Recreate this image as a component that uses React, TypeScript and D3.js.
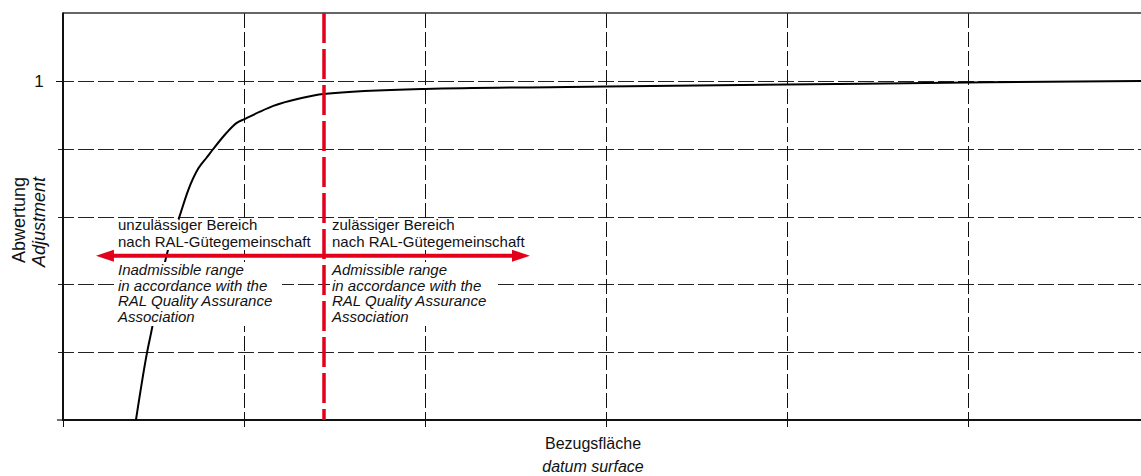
import React from "react";
import * as d3 from "d3";

// ---- data ----
const xGridValues = [0, 1, 2, 3, 4, 5, 6];
const yGridValues = [0, 0.2, 0.4, 0.6, 0.8, 1];
const yTickValues = [1];
const yTickLabels = ["1"];
const curveX = [0.403, 0.464, 0.492, 0.53, 0.58, 0.643, 0.692, 0.748, 0.794, 0.83, 0.904, 0.96, 1.002, 1.088, 1.162, 1.309, 1.438, 2.0, 3.0, 4.0, 5.0, 6.0];
const curveY = [0.0, 0.198, 0.271, 0.383, 0.501, 0.599, 0.678, 0.742, 0.774, 0.799, 0.847, 0.876, 0.887, 0.909, 0.926, 0.948, 0.961, 0.976, 0.983, 0.989, 0.995, 1.0];
const limitX = 1.442;
const arrowFromX = 0.182;
const arrowToX = 2.58;
const arrowY = 0.484;
const leftLabelDe = ["unzulässiger Bereich", "nach RAL-Gütegemeinschaft"];
const leftLabelEn = ["Inadmissible range", "in accordance with the", "RAL Quality Assurance", "Association"];
const rightLabelDe = ["zulässiger Bereich", "nach RAL-Gütegemeinschaft"];
const rightLabelEn = ["Admissible range", "in accordance with the", "RAL Quality Assurance", "Association"];
const xTitle = ["Bezugsfläche", "datum surface"];
const yTitle = ["Abwertung", "Adjustment"];

const W = 1141;
const H = 476;
const RED = "#e3001b";
const FONT = "'Liberation Sans', Arial, Helvetica, sans-serif";

const snap = (v: number) => Math.round(v) + 0.5;

export default function App() {
  const x = d3.scaleLinear().domain([0, 6]).range([63, 1149]);
  const y = d3.scaleLinear().domain([0, 1.2]).range([420, 13]);
  const pts: [number, number][] = curveX.map((v, i) => [x(v), y(curveY[i])]);
  const line = d3.line().curve(d3.curveMonotoneX)(pts) || "";

  const ax0 = x(arrowFromX);
  const ax1 = x(arrowToX);
  const ay = y(arrowY);
  const headL = 18;
  const headW = 6;
  const lx = x(limitX);

  const innerText = { fontFamily: FONT, fontSize: 15, fill: "#111" } as const;

  return (
    <svg width={W} height={H} style={{ position: "absolute", left: 0, top: 0, background: "#fff" }}>
      <rect x={0} y={0} width={W} height={H} fill="#fff" />
      {/* horizontal grid */}
      {yGridValues.filter((v) => v > 0).map((v) => (
        <line key={"hg" + v} x1={58} x2={W} y1={snap(y(v))} y2={snap(y(v))} stroke="#222" strokeWidth={1} strokeDasharray="16,4" />
      ))}
      {/* vertical grid */}
      {xGridValues.filter((v) => v > 0).map((v) => (
        <line key={"vg" + v} x1={snap(x(v))} x2={snap(x(v))} y1={13} y2={420} stroke="#111" strokeWidth={1} strokeDasharray="15,4" />
      ))}
      {/* bottom ticks */}
      {xGridValues.map((v) => (
        <line key={"xt" + v} x1={snap(x(v))} x2={snap(x(v))} y1={420} y2={427} stroke="#111" strokeWidth={1} />
      ))}
      {/* y ticks */}
      {yTickValues.map((v, i) => (
        <g key={"yt" + v}>
          <line x1={56} x2={63} y1={snap(y(v))} y2={snap(y(v))} stroke="#111" strokeWidth={1} />
          <text x={39} y={y(v)} dy="0.36em" textAnchor="middle" fontFamily={FONT} fontSize={17} fill="#111">
            {yTickLabels[i]}
          </text>
        </g>
      ))}
      <line x1={57} x2={63} y1={420} y2={420} stroke="#111" strokeWidth={1.2} />
      {/* frame */}
      <line x1={63} x2={W} y1={13} y2={13} stroke="#333" strokeWidth={1.6} />
      <line x1={63} x2={63} y1={12.5} y2={421} stroke="#111" strokeWidth={2} />
      <line x1={62} x2={W} y1={420} y2={420} stroke="#111" strokeWidth={2} />

      {/* curve */}
      <path d={line} fill="none" stroke="#000" strokeWidth={2} />

      {/* red limit line */}
      <line x1={lx} x2={lx} y1={13} y2={420} stroke={RED} strokeWidth={3.5} strokeDasharray="30,6" />

      {/* arrow */}
      <line x1={ax0 + headL - 1} x2={ax1 - headL + 1} y1={ay} y2={ay} stroke={RED} strokeWidth={4} />
      <path d={`M${ax0},${ay} L${ax0 + headL},${ay - headW} L${ax0 + headL},${ay + headW} Z`} fill={RED} />
      <path d={`M${ax1},${ay} L${ax1 - headL},${ay - headW} L${ax1 - headL},${ay + headW} Z`} fill={RED} />

      {/* annotations */}
      <rect x={116} y={219} width={200} height={31} fill="#fff" />
      <rect x={116} y={262} width={166} height={64} fill="#fff" />
      <rect x={lx + 6} y={219} width={200} height={31} fill="#fff" />
      <rect x={lx + 6} y={262} width={164} height={64} fill="#fff" />
      {leftLabelDe.map((t, i) => (
        <text key={"ld" + i} x={118} y={230 + i * 16.7} {...innerText}>{t}</text>
      ))}
      {leftLabelEn.map((t, i) => (
        <text key={"le" + i} x={118} y={275 + i * 15.7} {...innerText} fontStyle="italic">{t}</text>
      ))}
      {rightLabelDe.map((t, i) => (
        <text key={"rd" + i} x={lx + 8} y={230 + i * 16.7} {...innerText}>{t}</text>
      ))}
      {rightLabelEn.map((t, i) => (
        <text key={"re" + i} x={lx + 8} y={275 + i * 15.7} {...innerText} fontStyle="italic">{t}</text>
      ))}

      {/* axis titles */}
      <text x={593} y={449} textAnchor="middle" fontFamily={FONT} fontSize={16} fill="#111">{xTitle[0]}</text>
      <text x={593} y={472} textAnchor="middle" fontFamily={FONT} fontSize={16} fontStyle="italic" fill="#111">{xTitle[1]}</text>
      <text transform="translate(25,263) rotate(-90)" fontFamily={FONT} fontSize={18} fill="#111">{yTitle[0]}</text>
      <text transform="translate(45,267) rotate(-90)" fontFamily={FONT} fontSize={18} fontStyle="italic" fill="#111">{yTitle[1]}</text>
    </svg>
  );
}
